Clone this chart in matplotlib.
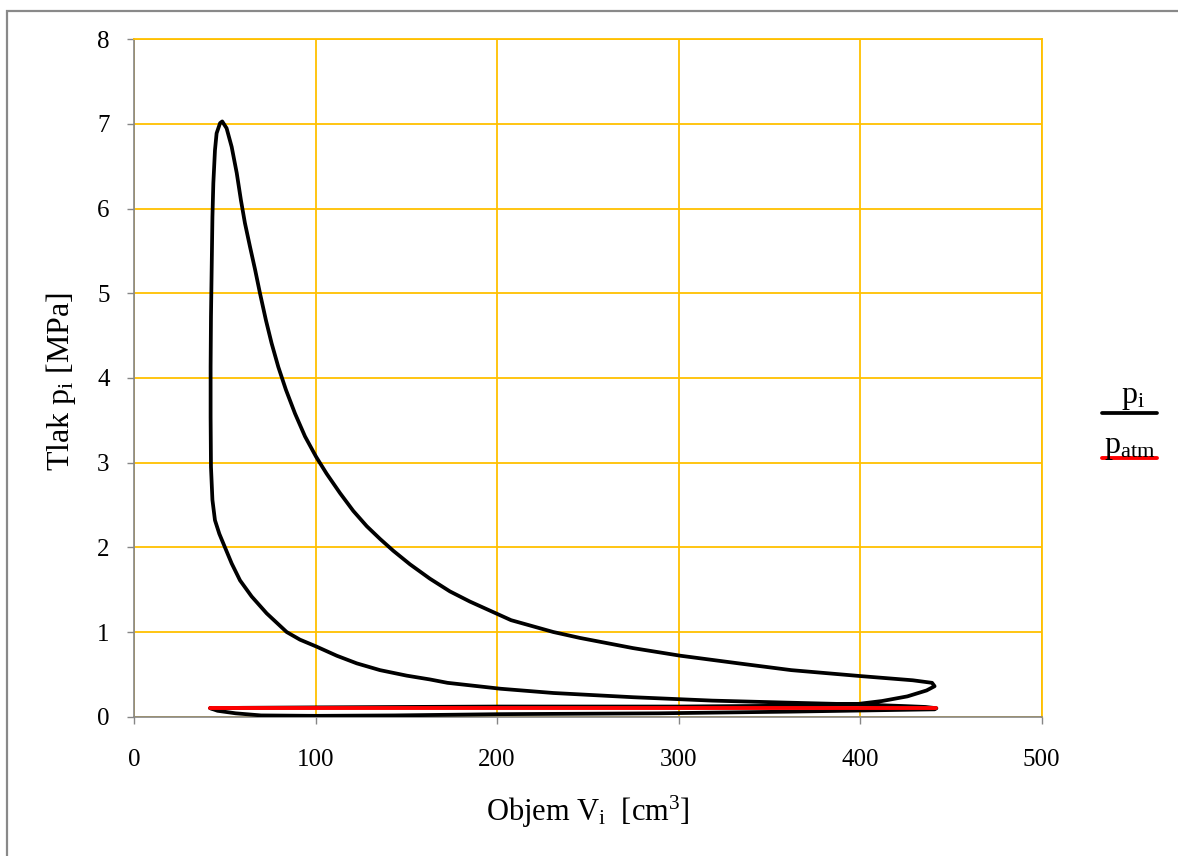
import matplotlib
matplotlib.use('Agg')
import matplotlib.pyplot as plt
from matplotlib.lines import Line2D
from matplotlib.patches import Rectangle

plt.rcParams['font.family'] = ['Liberation Serif', 'DejaVu Serif']
plt.rcParams['mathtext.fontset'] = 'custom'
plt.rcParams['mathtext.rm'] = 'Liberation Serif'
plt.rcParams['mathtext.it'] = 'Liberation Serif:italic'

# p-V loop (volume in cm^3, pressure in MPa)
# intake -> compression -> expansion -> blow-down -> exhaust
V_pi = [42, 46, 56, 70, 100, 143.6, 202, 289, 362, 441,
        442, 436, 425, 412, 397, 362, 318.5, 275, 231, 202, 172.7, 163, 150.2,
        135.5, 122.7, 111.7, 100.3, 91.4, 84.1, 73.1, 64.8, 58.4, 53.8, 50.1,
        47.0, 44.6, 43.2, 42.4, 42.2, 42.2, 42.4, 42.8, 43.2, 43.7, 44.6, 45.5,
        47.4, 48.6,
        51.0, 53.8, 56.6, 58.9, 61.1, 63.9, 66.7, 69.4, 72.7, 75.8, 79.5, 83.7,
        88.7, 94.2, 100.3, 106.1, 113.5, 120.8, 128.2, 135.5, 142.8, 152, 163,
        174, 185, 207.7, 231, 245.7, 274.9, 301, 333, 362, 400, 429, 439.6,
        441, 436.6, 426, 412, 397,
        362, 300, 250, 200, 150, 100, 60, 42]
p_pi = [0.10, 0.07, 0.04, 0.015, 0.01, 0.015, 0.03, 0.04, 0.06, 0.087,
        0.10, 0.115, 0.125, 0.135, 0.146, 0.165, 0.19, 0.23, 0.28, 0.33, 0.40, 0.44, 0.485,
        0.55, 0.63, 0.72, 0.83, 0.91, 1.00, 1.22, 1.42, 1.61, 1.81, 2.00,
        2.16, 2.32, 2.56, 2.95, 3.54, 4.13, 4.72, 5.31, 5.90, 6.30, 6.69, 6.89,
        7.01, 7.03,
        6.95, 6.73, 6.42, 6.10, 5.83, 5.55, 5.28, 5.00, 4.68, 4.41, 4.13, 3.86,
        3.58, 3.31, 3.07, 2.87, 2.64, 2.43, 2.25, 2.10, 1.96, 1.80, 1.63,
        1.48, 1.36, 1.14, 1.00, 0.93, 0.81, 0.72, 0.63, 0.55, 0.48, 0.43, 0.40,
        0.36, 0.31, 0.24, 0.185, 0.146,
        0.13, 0.12, 0.12, 0.12, 0.115, 0.11, 0.105, 0.10]

V_atm = [42, 442]
p_atm = [0.1, 0.1]

x_ticks = [0, 100, 200, 300, 400, 500]
y_ticks = [0, 1, 2, 3, 4, 5, 6, 7, 8]

W, H = 1178, 856
fig = plt.figure(figsize=(W / 100, H / 100), dpi=100)
ax = fig.add_axes([134 / W, 1 - 716.7 / H, (1041.7 - 134) / W, (716.7 - 39.3) / H])

gold = '#FFC000'
gray = '#868686'

ax.plot(V_pi, p_pi, color='black', lw=2.7, solid_joinstyle='round',
        solid_capstyle='round', zorder=3)
ax.plot(V_atm, p_atm, color='#FF0000', lw=2.8, solid_capstyle='round', zorder=4)

ax.set_xlim(0, 500)
ax.set_ylim(0, 8)
ax.set_xticks(x_ticks)
ax.set_yticks(y_ticks)
ax.grid(True, color=gold, lw=1.3)
ax.set_axisbelow(True)

for s in ['top', 'right']:
    ax.spines[s].set_color(gold)
    ax.spines[s].set_linewidth(1.3)
for s in ['left', 'bottom']:
    ax.spines[s].set_color(gray)
    ax.spines[s].set_linewidth(1.2)

ax.tick_params(axis='both', direction='out', length=5, width=1, color=gray,
               labelsize=18, labelcolor='black')
ax.tick_params(axis='y', pad=12.5)
ax.tick_params(axis='x', pad=18.5)

ax.set_xlabel(r'Objem V$_{\mathrm{i}}$  [cm$^{\mathrm{3}}$]', fontsize=22,
              va='center', ha='center')
ax.xaxis.set_label_coords((587.5 - 134) / 907.7, (716.7 - 812) / 677.4)
ax.set_ylabel(r'Tlak p$_{\mathrm{i}}$ [MPa]', fontsize=23, va='center', ha='center')
ax.yaxis.set_label_coords((61 - 134) / 907.7, (716.7 - 381) / 677.4)

# legend (manual, Excel-like: label centred above its line sample)
fig.text(1133 / W, 1 - 403 / H, r'p$_{\mathrm{i}}$', fontsize=23, ha='center', va='baseline')
fig.add_artist(Line2D([1102 / W, 1157 / W], [1 - 413 / H, 1 - 413 / H], color='black',
                      lw=2.7, solid_capstyle='round'))
fig.text(1130 / W, 1 - 453 / H, r'p$_{\mathrm{atm}}$', fontsize=23, ha='center', va='baseline')
fig.add_artist(Line2D([1102 / W, 1157 / W], [1 - 458 / H, 1 - 458 / H], color='#FF0000',
                      lw=2.8, solid_capstyle='round'))

# outer frame
fig.add_artist(Rectangle((7 / W, -0.1), 1.2, 1.1 - 10.7 / H, transform=fig.transFigure,
                         fill=False, edgecolor='#898989', lw=1.6))

fig.savefig('out.png', dpi=100)
